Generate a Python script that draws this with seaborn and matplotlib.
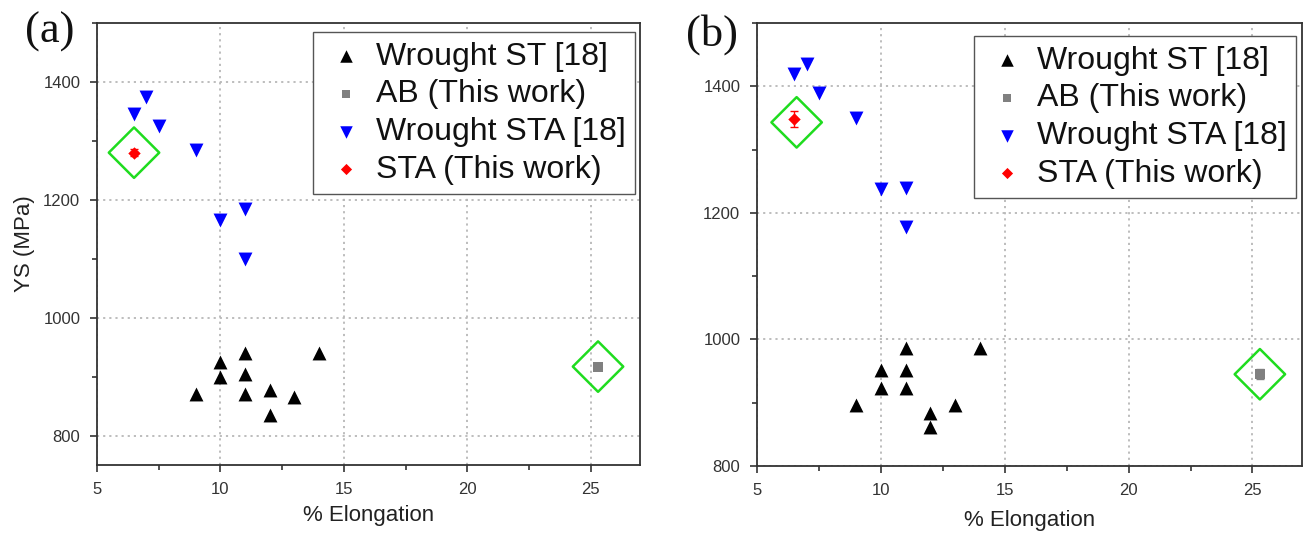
import matplotlib
matplotlib.use("Agg")
import matplotlib.pyplot as plt
import seaborn as sns
from matplotlib.ticker import MultipleLocator

# ---------------- data ----------------
elong_wrought_st = [9, 10, 10, 11, 11, 11, 12, 12, 13, 14]
ys_wrought_st = [870, 925, 900, 940, 905, 870, 877, 835, 865, 940]
uts_wrought_st = [897, 952, 924, 987, 952, 924, 884, 862, 897, 987]

elong_wrought_sta = [6.5, 7, 7.5, 9, 10, 11, 11]
ys_wrought_sta = [1345, 1375, 1325, 1285, 1165, 1185, 1100]
uts_wrought_sta = [1420, 1435, 1390, 1350, 1237, 1240, 1177]

elong_ab = [25.3]
ys_ab = [917]
ys_ab_err = [4]
uts_ab = [945]
uts_ab_err = [8]

elong_sta = [6.5]
ys_sta = [1280]
ys_sta_err = [6]
uts_sta = [1348]
uts_sta_err = [13]

# highlighted (green diamond) points
hl_a_x = [6.5, 25.3]
hl_a_y = [1280, 917]
hl_b_x = [6.6, 25.3]
hl_b_y = [1343, 945]

labels = ["Wrought ST [18]", "AB (This work)", "Wrought STA [18]", "STA (This work)"]
panel_tags = ["(a)", "(b)"]
xlabel = "% Elongation"
ylabel_a = "YS (MPa)"

# ---------------- style ----------------
sns.set_theme(style="ticks")
plt.rcParams["font.family"] = ["Liberation Sans", "DejaVu Sans"]

fig = plt.figure(figsize=(13.05, 5.34), dpi=100)
ax_a = fig.add_axes([97 / 1305, 1 - 465 / 534, 543 / 1305, 442 / 534])
ax_b = fig.add_axes([757 / 1305, 1 - 466 / 534, 545 / 1305, 443 / 534])


def draw(ax, y_st, y_sta, y_ab, y_ab_err, y_s, y_s_err, hx, hy, ylim, leg_anchor):
    # highlights
    ax.scatter(hx, hy, marker="D", s=660, facecolors="none",
               edgecolors="#1fdc1f", linewidths=1.8, zorder=3)
    h1 = sns.scatterplot(x=elong_wrought_st, y=y_st, ax=ax, marker="^", color="black",
                         s=100, linewidth=0, zorder=4).collections[-1]
    ax.errorbar(elong_ab, y_ab, yerr=y_ab_err, fmt="none", ecolor="#808080",
                capsize=3, elinewidth=1, zorder=4)
    h2 = sns.scatterplot(x=elong_ab, y=y_ab, ax=ax, marker="s", color="#808080",
                         s=44, linewidth=0, zorder=5).collections[-1]
    h3 = sns.scatterplot(x=elong_wrought_sta, y=y_sta, ax=ax, marker="v", color="#0000ff",
                         s=100, linewidth=0, zorder=4).collections[-1]
    ax.errorbar(elong_sta, y_s, yerr=y_s_err, fmt="none", ecolor="#ff0000",
                capsize=3, elinewidth=1, zorder=4)
    h4 = sns.scatterplot(x=elong_sta, y=y_s, ax=ax, marker="D", color="#ff0000",
                         s=40, linewidth=0, zorder=5).collections[-1]

    ax.set_xlim(5, 27)
    ax.set_ylim(*ylim)
    ax.xaxis.set_major_locator(MultipleLocator(5))
    ax.xaxis.set_minor_locator(MultipleLocator(2.5))
    ax.yaxis.set_major_locator(MultipleLocator(200))
    ax.yaxis.set_minor_locator(MultipleLocator(100))
    ax.grid(True, which="major", linestyle=(0, (1.2, 2.2)), color="#b8b8b8",
            linewidth=1.3, zorder=0)
    ax.set_axisbelow(True)
    ax.tick_params(which="major", direction="out", length=5, width=1.2,
                   labelsize=12, labelcolor="#333333", color="#333333",
                   top=False, right=False)
    ax.tick_params(axis="y", which="major", pad=7)
    ax.tick_params(axis="x", which="major", pad=7)
    ax.tick_params(which="minor", direction="out", length=3.5, width=1.2,
                   color="#333333", top=False, right=False)
    for sp in ax.spines.values():
        sp.set_visible(True)
        sp.set_color("#333333")
        sp.set_linewidth(1.3)
    ax.set_xlabel(xlabel, fontsize=16, color="#222222", labelpad=6)

    leg = ax.legend([h1, h2, h3, h4], labels, loc="upper right",
                    bbox_to_anchor=leg_anchor, borderaxespad=0, fontsize=23,
                    frameon=True, fancybox=False, edgecolor="#555555",
                    framealpha=1, scatterpoints=1, markerscale=0.9,
                    labelspacing=0.24, handletextpad=0.2, borderpad=0.3,
                    handlelength=1.45)
    leg.get_frame().set_linewidth(1.0)
    for t in leg.get_texts():
        t.set_color("#111111")
    return ax


draw(ax_a, ys_wrought_st, ys_wrought_sta, ys_ab, ys_ab_err, ys_sta, ys_sta_err,
     hl_a_x, hl_a_y, (750, 1500), (0.9908, 0.9796))
ax_a.set_ylabel(ylabel_a, fontsize=16, color="#222222", labelpad=6)

draw(ax_b, uts_wrought_st, uts_wrought_sta, uts_ab, uts_ab_err, uts_sta, uts_sta_err,
     hl_b_x, hl_b_y, (800, 1500), (0.989, 0.9707))
ax_b.set_ylabel("")
ax_b.xaxis.labelpad = 9

fig.text(50 / 1305, 1 - 32 / 534, panel_tags[0], family="Liberation Serif",
         fontsize=32, ha="center", va="center", color="#111111")
fig.text(712 / 1305, 1 - 35 / 534, panel_tags[1], family="Liberation Serif",
         fontsize=32, ha="center", va="center", color="#111111")

fig.savefig("out.png", dpi=100)
